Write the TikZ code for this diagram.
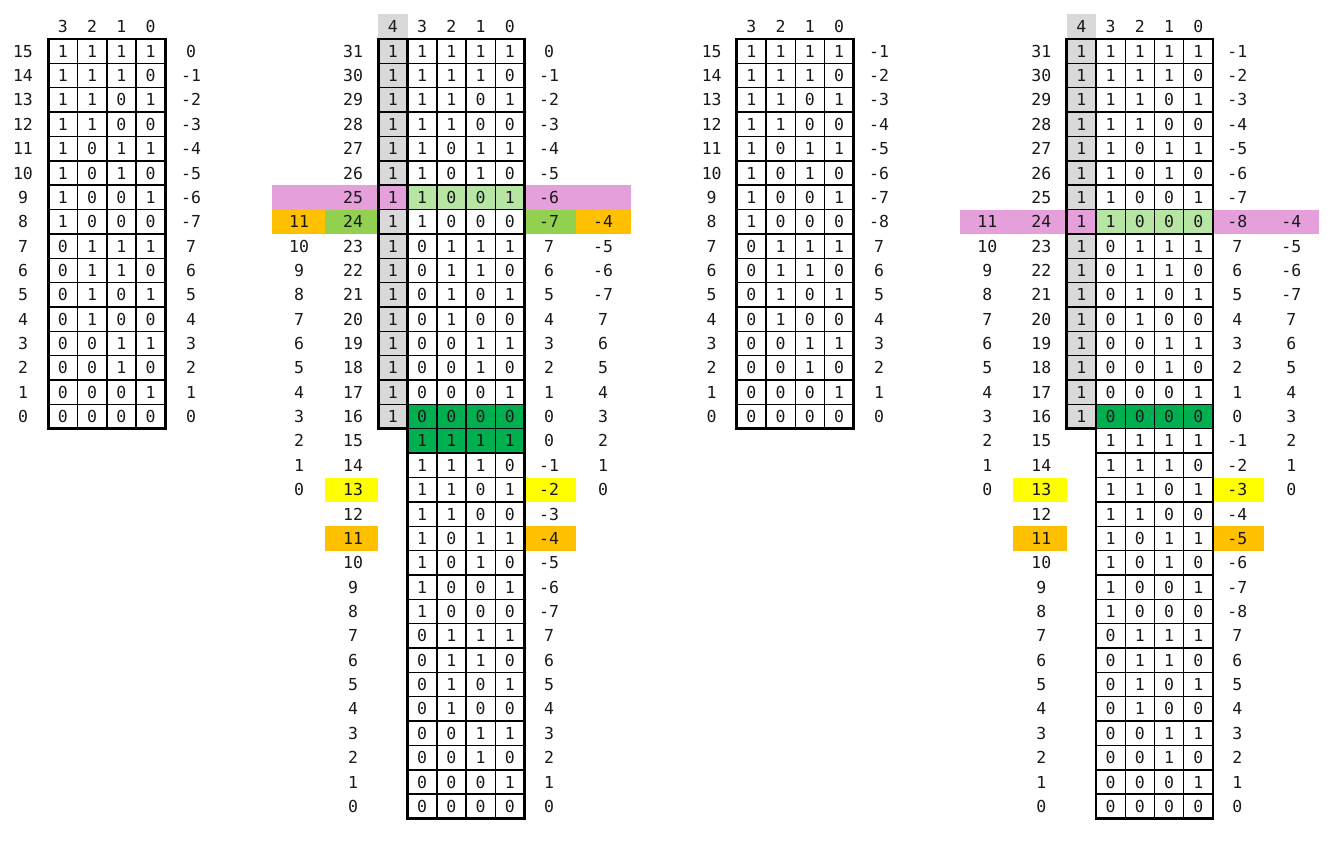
\documentclass[tikz,border=0pt]{standalone}
\usepackage{fontspec}
\newfontfamily\monof{DejaVu Sans Mono}
\definecolor{txt}{RGB}{25,25,25}
\definecolor{cgray}{RGB}{217,217,217}
\definecolor{cpink}{RGB}{229,160,220}
\definecolor{corange}{RGB}{255,192,0}
\definecolor{cgreen}{RGB}{146,208,80}
\definecolor{clgreen}{RGB}{183,230,164}
\definecolor{cdgreen}{RGB}{0,176,80}
\definecolor{cyellow}{RGB}{255,255,0}
\tikzset{
  lbl/.style={font=\monof\fontsize{16.5}{18}\selectfont, text=txt, inner sep=0pt, text height=12pt, text depth=0pt, anchor=center},
  cellbox/.style={draw=black, line width=1.4pt},
  framebox/.style={draw=black, line width=2.8pt},
}
\def\rowp{24.36}
\def\cw{29.25}
% #1 prefix, #2 box left x, #3 row-label x, #4 value x, #5 subtrahend
\newcommand\smalltable[5]{%
  \foreach \k/\h in {0/3,1/2,2/1,3/0}{
    \node[lbl] (#1-h\h) at (#2+\cw*\k+\cw/2, 26.84) {\h};
  }
  \foreach \i in {0,...,15}{
    \pgfmathtruncatemacro\nn{15-\i}
    \pgfmathsetmacro\yc{51.2+\rowp*\i}
    \node[lbl] (#1-r\nn) at (#3,\yc) {\nn};
    \pgfmathtruncatemacro\vv{(\nn>7) ? \nn-#5 : \nn}
    \node[lbl] (#1-v\nn) at (#4,\yc) {\vv};
    \foreach \k in {0,...,3}{
      \pgfmathtruncatemacro\bt{mod(floor(\nn/2^(3-\k)),2)}
      \pgfmathsetmacro\xa{#2+\cw*\k}
      \draw[cellbox,fill=white] (\xa,\yc-12.18) rectangle ++(\cw,\rowp);
      \node[lbl] (#1-c\nn-\k) at (\xa+\cw/2,\yc) {\bt};
    }
  }
  \draw[framebox] (#2,39.02) rectangle ++(4*\cw,16*\rowp);
}
% #1 prefix, #2 dx, #3 subtrahend, #4 pink row index, #5 dark green bound (exclusive)
\newcommand\bigtable[5]{%
  \fill[cgray] (#2+378.3,14) rectangle (#2+407.55,38);
  \node[lbl] (#1-h4) at (#2+392.9,26.84) {4};
  \foreach \k/\h in {0/3,1/2,2/1,3/0}{
    \node[lbl] (#1-h\h) at (#2+407.55+\cw*\k+\cw/2,26.84) {\h};
  }
  \foreach \i in {0,...,31}{
    \pgfmathtruncatemacro\nn{31-\i}
    \pgfmathtruncatemacro\mm{mod(\nn,16)}
    \pgfmathsetmacro\yc{51.2+\rowp*\i}
    \node[lbl] (#1-r\nn) at (#2+353,\yc) {\nn};
    \pgfmathtruncatemacro\vv{(\mm>7) ? \mm-#3 : \mm}
    \node[lbl] (#1-v\nn) at (#2+549,\yc) {\vv};
    \ifnum\nn<25 \ifnum\nn>12
      \pgfmathtruncatemacro\fl{\nn-13}
      \pgfmathtruncatemacro\fr{(\fl>7) ? \fl-15 : \fl}
      \node[lbl] (#1-fl\nn) at (#2+299,\yc) {\fl};
      \node[lbl] (#1-fr\nn) at (#2+603,\yc) {\fr};
    \fi\fi
    \ifnum\nn>15
      \ifnum\i=#4 \def\gc{cpink}\else\def\gc{cgray}\fi
      \draw[cellbox,fill=\gc] (#2+378.3,\yc-12.18) rectangle ++(\cw,\rowp);
      \node[lbl] (#1-c\nn-4) at (#2+392.9,\yc) {1};
    \fi
    \def\fc{white}
    \ifnum\i=#4 \def\fc{clgreen}\fi
    \ifnum\i>14 \ifnum\i<#5 \def\fc{cdgreen}\fi\fi
    \foreach \k in {0,...,3}{
      \pgfmathtruncatemacro\bt{mod(floor(\mm/2^(3-\k)),2)}
      \pgfmathsetmacro\xa{#2+407.55+\cw*\k}
      \draw[cellbox,fill=\fc] (\xa,\yc-12.18) rectangle ++(\cw,\rowp);
      \node[lbl] (#1-c\nn-\k) at (\xa+\cw/2,\yc) {\bt};
    }
  }
  \draw[framebox] (#2+378.3,39.02) rectangle ++(\cw,16*\rowp);
  \draw[framebox] (#2+407.55,39.02) rectangle ++(4*\cw,32*\rowp);
}
\begin{document}
\begin{tikzpicture}[x=1pt,y=-1pt]
\useasboundingbox (0,0) rectangle (1341,841);
\fill[white] (0,0) rectangle (1341,841);
% table 1
\smalltable{A}{48.3}{23}{191}{15}
% table 3
\smalltable{C}{736.7}{711.7}{879}{16}
% table 2 bands
\fill[cpink] (271.7,185.18) rectangle (630.7,209.54);
\fill[corange] (271.7,209.54) rectangle (325,233.9);
\fill[cgreen] (325,209.54) rectangle (378.3,233.9);
\fill[cgreen] (524.55,209.54) rectangle (576,233.9);
\fill[corange] (576,209.54) rectangle (630.7,233.9);
\fill[cyellow] (325,477.5) rectangle (378.3,501.86);
\fill[cyellow] (524.55,477.5) rectangle (576,501.86);
\fill[corange] (325,526.22) rectangle (378.3,550.58);
\fill[corange] (524.55,526.22) rectangle (576,550.58);
\bigtable{B}{0}{15}{6}{17}
% table 4 bands
\fill[cpink] (960.1,209.54) rectangle (1319.1,233.9);
\fill[cyellow] (1013.4,477.5) rectangle (1066.7,501.86);
\fill[cyellow] (1212.95,477.5) rectangle (1264.4,501.86);
\fill[corange] (1013.4,526.22) rectangle (1066.7,550.58);
\fill[corange] (1212.95,526.22) rectangle (1264.4,550.58);
\bigtable{D}{688.4}{16}{7}{16}
\end{tikzpicture}
\end{document}
